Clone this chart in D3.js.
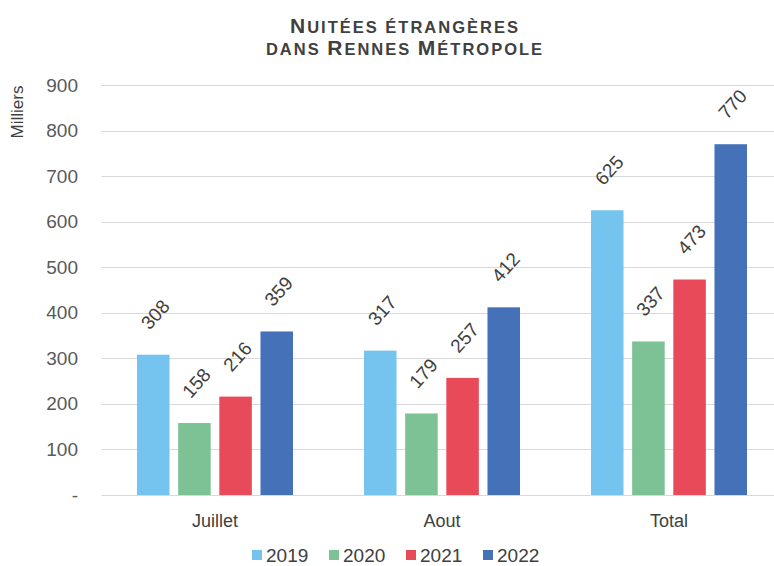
<!DOCTYPE html>
<html>
<head>
<meta charset="utf-8">
<script src="https://cdn.jsdelivr.net/npm/d3@7"></script>
<style>
  body { margin: 0; background: #fff; }
  svg { font-family: Arial, "Liberation Sans", sans-serif; }
</style>
</head>
<body>
<svg id="chart" width="774" height="566"></svg>
<script>
  // data
  var categories = ["Juillet", "Aout", "Total"]
  var years = ["2019", "2020", "2021", "2022"]
  var v2019 = [308, 317, 625]
  var v2020 = [158, 179, 337]
  var v2021 = [216, 257, 473]
  var v2022 = [359, 412, 770]
  var yTicks = [0, 100, 200, 300, 400, 500, 600, 700, 800, 900]
  var colors = ["#75C4EF", "#7DC295", "#E84A5A", "#4471B7"]

  var seriesValues = [v2019, v2020, v2021, v2022]

  var width = 774
  var height = 566
  var margin = { top: 85, bottom: 71, left: 101.5, right: -8.5 }
  var bodyHeight = height - margin.top - margin.bottom
  var bodyWidth = width - margin.left - margin.right

  var svg = d3.select("#chart")

  var xScale = d3.scaleBand()
    .domain(categories)
    .range([margin.left, margin.left + bodyWidth])

  var yScale = d3.scaleLinear()
    .domain([0, 900])
    .range([margin.top + bodyHeight, margin.top])

  var inner = d3.scaleBand()
    .domain(years)
    .range([-78, 78])
    .paddingInner(0.21)

  // gridlines
  svg.append("g").selectAll("line")
    .data(yTicks)
    .enter().append("line")
    .attr("x1", margin.left)
    .attr("x2", width)
    .attr("y1", d => Math.round(yScale(d)) + 0.5)
    .attr("y2", d => Math.round(yScale(d)) + 0.5)
    .attr("stroke", "#d9d9d9")
    .attr("stroke-width", 1)

  // y axis labels
  svg.append("g").selectAll("text")
    .data(yTicks)
    .enter().append("text")
    .attr("x", 78)
    .attr("y", d => yScale(d) + 6.5)
    .attr("text-anchor", "end")
    .attr("font-size", 19)
    .attr("fill", "#595959")
    .text(d => d === 0 ? "-" : d)

  svg.append("text")
    .attr("transform", "translate(23,112) rotate(-90)")
    .attr("text-anchor", "middle")
    .attr("font-size", 17)
    .attr("fill", "#404040")
    .text("Milliers")

  // bars
  years.forEach(function(yr, s) {
    var g = svg.append("g")
    var data = categories.map((c, i) => ({ cat: c, value: seriesValues[s][i] }))
    g.selectAll("rect")
      .data(data)
      .enter().append("rect")
      .attr("x", d => xScale(d.cat) + xScale.bandwidth() / 2 + inner(yr))
      .attr("width", inner.bandwidth())
      .attr("y", d => yScale(d.value))
      .attr("height", d => yScale(0) - yScale(d.value))
      .attr("fill", colors[s])

    g.selectAll("text")
      .data(data)
      .enter().append("text")
      .attr("transform", d => "translate(" +
        (xScale(d.cat) + xScale.bandwidth() / 2 + inner(yr) + inner.bandwidth() / 2 + 2) + "," +
        (yScale(d.value) - 40) + ") rotate(-48)")
      .attr("text-anchor", "middle")
      .attr("dominant-baseline", "central")
      .attr("font-size", 19)
      .attr("fill", "#404040")
      .text(d => d.value)
  })

  // x axis labels
  svg.append("g").selectAll("text")
    .data(categories)
    .enter().append("text")
    .attr("x", d => xScale(d) + xScale.bandwidth() / 2)
    .attr("y", 527)
    .attr("text-anchor", "middle")
    .attr("font-size", 18)
    .attr("fill", "#404040")
    .text(d => d)

  // title, small caps built by hand
  var titleLines = ["Nuitées étrangères", "dans Rennes Métropole"]
  titleLines.forEach(function(line, li) {
    var t = svg.append("text")
      .attr("x", 405)
      .attr("y", 33 + li * 21.5)
      .attr("text-anchor", "middle")
      .attr("font-weight", "bold")
      .attr("letter-spacing", 2)
      .attr("fill", "#404040")
    var parts = line.match(/[A-ZÀ-Ý]+|[^A-ZÀ-Ý]+/g)
    parts.forEach(function(p) {
      var big = p === p.toUpperCase() && /[A-ZÀ-Ý]/.test(p)
      t.append("tspan")
        .attr("font-size", big ? 21 : 16.5)
        .text(p.toUpperCase())
    })
  })

  // legend
  var legend = svg.append("g").selectAll("g")
    .data(years)
    .enter().append("g")
    .attr("transform", (d, i) => "translate(" + (252 + i * 77) + ",550)")
  legend.append("rect")
    .attr("width", 10)
    .attr("height", 10)
    .attr("fill", (d, i) => colors[i])
  legend.append("text")
    .attr("x", 14)
    .attr("y", 11.5)
    .attr("font-size", 19)
    .attr("fill", "#404040")
    .text(d => d)
</script>
</body>
</html>
